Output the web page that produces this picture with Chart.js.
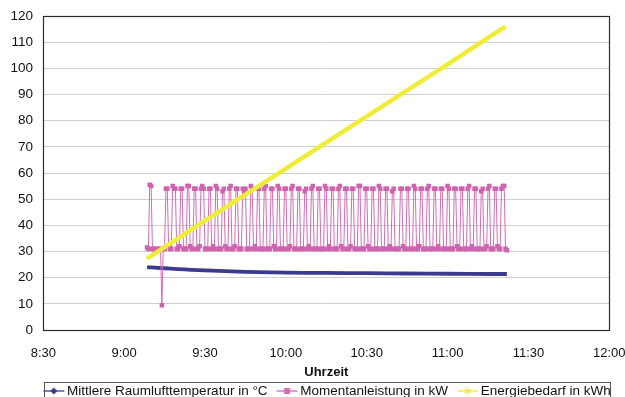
<!DOCTYPE html>
<html>
<head>
<meta charset="utf-8">
<script src="https://cdn.jsdelivr.net/npm/chart.js@4"></script>
<style>
  html, body { margin: 0; padding: 0; background: #fff; }
  canvas { display: block; }
</style>
</head>
<body>
<canvas id="chart" width="625" height="397"></canvas>
<script>
// Series labels
const seriesNames = ['Mittlere Raumlufttemperatur in °C', 'Momentanleistung in kW', 'Energiebedarf in kWh'];

// Room air temperature (°C)
const tempTimes = ['9:08:30', '9:10', '9:15', '9:20', '9:25', '9:30', '9:40', '9:50', '10:00', '10:15', '10:30', '10:45', '11:00', '11:15', '11:22'];
const tempValues = [24.0, 23.9, 23.6, 23.3, 23.0, 22.8, 22.4, 22.1, 21.9, 21.8, 21.7, 21.6, 21.5, 21.4, 21.4];

// Instantaneous power (kW), logged every 30 s from 9:08:30
const powerStart = '9:08:30';
const powerStepMin = 0.5;
const powerValues = [
  31.5, 31, 55.5, 55, 31, 31, 30.5, 31, 31, 30.5, 31, 9.5, 31, 31, 54,
  54, 32, 31, 31, 55, 54, 54, 31, 31, 32, 54, 54,
  31, 31, 31, 55, 55, 32, 31, 31, 54, 54, 31, 31,
  32, 54, 55, 54, 31, 31, 31, 54, 54, 31, 32, 31,
  55, 54, 31, 31, 31, 53, 54, 32, 31, 31, 54, 55,
  31, 31, 32, 54, 54, 31, 31, 31, 54, 53, 54, 31,
  31, 31, 55, 54, 31, 32, 31, 54, 54, 31, 31, 31,
  54, 55, 31, 31, 31, 54, 54, 32, 31, 31, 55, 54,
  31, 31, 31, 54, 54, 31, 31, 32, 54, 55, 31, 31,
  31, 54, 54, 31, 31, 31, 53, 54, 31, 32, 31, 54,
  55, 31, 31, 31, 54, 54, 31, 31, 31, 55, 54, 31,
  32, 31, 54, 54, 31, 31, 31, 54, 55, 32, 31, 31,
  54, 54, 31, 31, 32, 54, 54, 31, 31, 31, 55, 55,
  31, 31, 31, 54, 54, 32, 31, 31, 54, 54, 31, 31,
  31, 55, 54, 31, 31, 31, 54, 54, 31, 32, 31, 53,
  54, 31, 31, 31, 31, 54, 54, 32, 31, 31, 54, 54,
  31, 31, 31, 55, 54, 31, 31, 32, 54, 54, 31, 31,
  31, 54, 55, 31, 31, 31, 54, 54, 31, 32, 31, 54,
  54, 31, 31, 31, 55, 54, 31, 31, 31, 54, 54, 32,
  31, 31, 54, 54, 31, 31, 31, 54, 55, 31, 32, 31,
  54, 54, 31, 31, 31, 53, 54, 31, 31, 32, 54, 55,
  31, 31, 31, 54, 54, 32, 31, 31, 54, 55, 55, 31,
  30.5
];

// Cumulative energy demand (kWh)
const energyTimes = ['9:08:30', '9:30', '10:00', '10:30', '11:00', '11:21:30'];
const energyValues = [27.3, 41.8, 61.7, 81.6, 101.5, 116.0];

// Axis ticks
const xMin = '8:30';
const xMax = '12:00';
const xStep = 30;
const yTicks = [0, 10, 20, 30, 40, 50, 60, 70, 80, 90, 100, 110, 120];

const FONT = "'Liberation Sans', Arial, sans-serif";

function toMin(t) {
    const p = t.split(':').map(Number);
    return p[0] * 60 + p[1] + (p[2] || 0) / 60;
}

function fmtTime(v) {
    const h = Math.floor(v / 60);
    const m = Math.round(v - h * 60);
    return h + ':' + String(m).padStart(2, '0');
}

const tempData = tempTimes.map((t, i) => ({ x: toMin(t), y: tempValues[i] }));
const powerData = powerValues.map((v, i) => ({ x: toMin(powerStart) + i * powerStepMin, y: v }));
const energyData = energyTimes.map((t, i) => ({ x: toMin(t), y: energyValues[i] }));

const colTemp = '#3b3a8c';
const colPower = '#d36cb6';
const colEnergy = '#efec3a';

// Little "line with marker" swatches for the legend
function makeIcon(color, kind) {
    const c = document.createElement('canvas');
    c.width = 34;
    c.height = 14;
    const g = c.getContext('2d');
    const cx = 22.5, cy = 7;
    g.strokeStyle = color;
    g.lineWidth = 1.3;
    g.beginPath();
    g.moveTo(12, cy);
    g.lineTo(33, cy);
    g.stroke();
    g.fillStyle = color;
    if (kind === 'diamond') {
        g.beginPath();
        g.moveTo(cx, cy - 3.5);
        g.lineTo(cx + 3.5, cy);
        g.lineTo(cx, cy + 3.5);
        g.lineTo(cx - 3.5, cy);
        g.closePath();
        g.fill();
    } else if (kind === 'square') {
        g.fillRect(cx - 3, cy - 3, 6, 6);
    } else {
        g.lineWidth = 1.2;
        g.beginPath();
        for (let a = 0; a < 3; a++) {
            const r = a * Math.PI / 3 + Math.PI / 2;
            g.moveTo(cx - Math.cos(r) * 4, cy - Math.sin(r) * 4);
            g.lineTo(cx + Math.cos(r) * 4, cy + Math.sin(r) * 4);
        }
        g.stroke();
    }
    return c;
}

const legendIcons = [makeIcon(colTemp, 'diamond'), makeIcon(colPower, 'square'), makeIcon(colEnergy, 'star')];

// Plot frame and legend box, like the spreadsheet original
const framePlugin = {
    id: 'frame',
    beforeDatasetsDraw(chart) {
        const { ctx, chartArea: a } = chart;
        ctx.save();
        ctx.strokeStyle = '#2b2b2b';
        ctx.lineWidth = 1.2;
        ctx.strokeRect(Math.round(a.left) + 0.5, Math.round(a.top) + 0.5,
            Math.round(a.right - a.left), Math.round(a.bottom - a.top));
        ctx.restore();
    },
    afterDraw(chart) {
        const { ctx } = chart;
        ctx.save();
        ctx.strokeStyle = '#555';
        ctx.lineWidth = 1;
        ctx.strokeRect(44.5, 382.5, 566, 30);
        ctx.restore();
    }
};

new Chart(document.getElementById('chart'), {
    type: 'line',
    data: {
        datasets: [
            {
                label: seriesNames[0],
                data: tempData,
                borderColor: colTemp,
                backgroundColor: colTemp,
                borderWidth: 3.8,
                pointRadius: 0,
                tension: 0.3,
                order: 3
            },
            {
                label: seriesNames[1],
                data: powerData,
                borderColor: colPower,
                backgroundColor: colPower,
                borderWidth: 1,
                pointStyle: 'rect',
                pointRadius: 3.2,
                pointBorderWidth: 0,
                pointBackgroundColor: '#d062ae',
                tension: 0,
                order: 2
            },
            {
                label: seriesNames[2],
                data: energyData,
                borderColor: colEnergy,
                backgroundColor: colEnergy,
                borderWidth: 4.5,
                pointRadius: 0,
                tension: 0,
                order: 1
            }
        ]
    },
    options: {
        responsive: false,
        devicePixelRatio: 1,
        animation: false,
        layout: { padding: { left: 10, right: -12, top: 16, bottom: -10.75 } },
        plugins: {
            tooltip: { enabled: false },
            legend: {
                position: 'bottom',
                labels: {
                    usePointStyle: true,
                    pointStyleWidth: 24,
                    padding: 2,
                    color: '#111',
                    font: { family: FONT, size: 13.5 },
                    generateLabels: chart => chart.data.datasets.map((ds, i) => ({
                        text: ds.label,
                        pointStyle: legendIcons[i],
                        datasetIndex: i,
                        hidden: false,
                        fillStyle: 'transparent',
                        strokeStyle: 'transparent',
                        lineWidth: 0,
                        fontColor: '#111'
                    }))
                }
            }
        },
        scales: {
            x: {
                type: 'linear',
                min: toMin(xMin),
                max: toMin(xMax),
                afterFit: scale => {
                    scale.height = 52.25;
                    scale.paddingLeft = 13;
                    scale.paddingRight = 15.7;
                },
                grid: { display: false },
                border: { display: false },
                ticks: {
                    stepSize: xStep,
                    padding: 8,
                    color: '#111',
                    font: { family: FONT, size: 13 },
                    callback: v => fmtTime(v)
                },
                title: {
                    display: true,
                    text: 'Uhrzeit',
                    color: '#111',
                    font: { family: FONT, size: 13, weight: 'bold' },
                    padding: { top: 6.6, bottom: 2.4 }
                }
            },
            y: {
                min: yTicks[0],
                max: yTicks[yTicks.length - 1],
                afterFit: scale => { scale.width = 33.3; },
                afterBuildTicks: scale => { scale.ticks = yTicks.map(v => ({ value: v })); },
                grid: { color: '#cfcfcf', lineWidth: 1, drawTicks: false },
                border: { display: false },
                ticks: {
                    padding: 10.3,
                    color: '#111',
                    font: { family: FONT, size: 13.5, lineHeight: 0.8 }
                }
            }
        }
    },
    plugins: [framePlugin]
});
</script>
</body>
</html>
